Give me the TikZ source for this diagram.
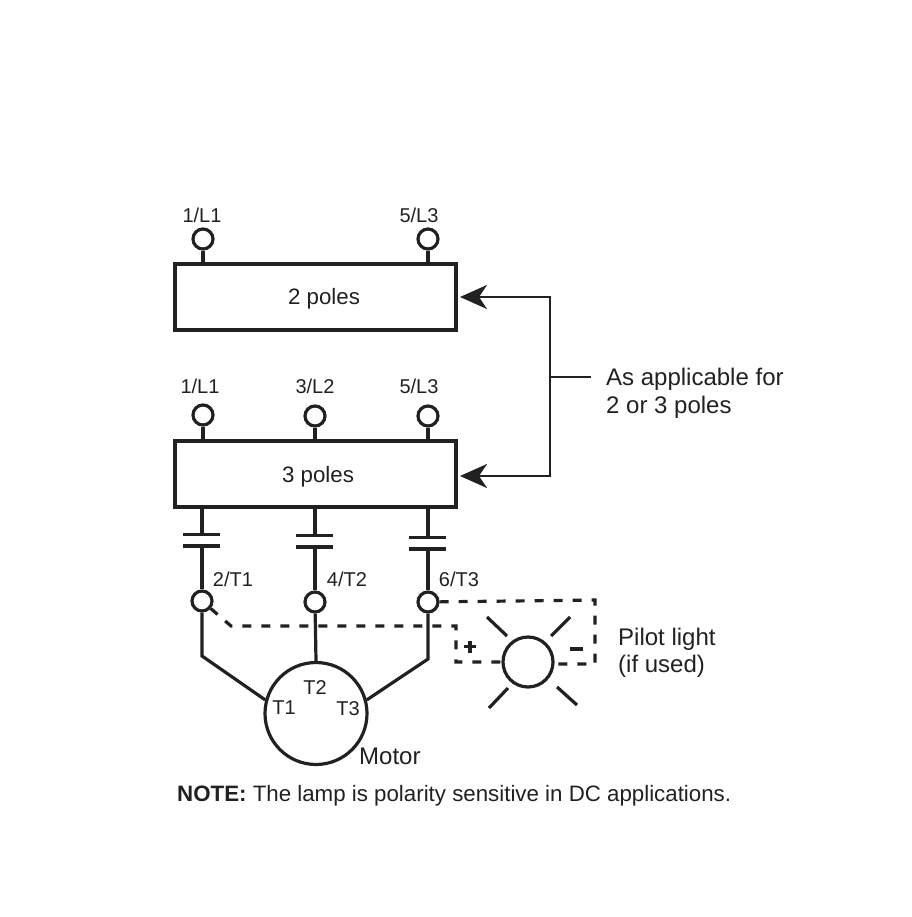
\documentclass[tikz,border=0pt]{standalone}
\usepackage{fontspec}
\setmainfont{Liberation Sans}
\usetikzlibrary{arrows.meta}
\definecolor{ink}{gray}{0.13}
\newcommand{\fsA}{\fontsize{20}{24}\selectfont}
\newcommand{\fsB}{\fontsize{22.3}{27.5}\selectfont}
\newcommand{\fsC}{\fontsize{24}{27.5}\selectfont}
\tikzset{
  wire/.style={draw=ink,line width=3.2pt},
  thin wire/.style={draw=ink,line width=2.6pt},
  dashwire/.style={draw=ink,line width=3.2pt,dash pattern=on 9pt off 10pt},
  polebox/.style={draw=ink,line width=3.2pt,minimum width=281pt,minimum height=66pt,inner sep=0pt,outer sep=0pt,anchor=north west},
  term/.style={circle,draw=ink,line width=3.2pt,fill=white,minimum size=20pt,inner sep=0pt},
  plate/.style={draw=ink,line width=3.6pt},
  lbl/.style={text=ink,inner sep=0pt,font=\fsA},
  big/.style={text=ink,inner sep=0pt,font=\fsC,align=left},
  tip/.style={-{Stealth[inset=8pt,length=27pt,width=24pt]}}
}
\begin{document}
\begin{tikzpicture}[x=1pt,y=-1pt]
\useasboundingbox (0,0) rectangle (911,917);
% boxes
\node[polebox] (box2) at (175,264) {};
\node[polebox] (box3) at (175,441) {};
\node[lbl,font=\fsB] (tx2) at (324,299) {2 poles};
\node[lbl,font=\fsB] (tx3) at (318,477) {3 poles};
% upper terminals
\node[term] (a1) at (203,239) {};
\node[term] (a5) at (428,239) {};
\node[term] (b1) at (203,415) {};
\node[term] (b3) at (315,416) {};
\node[term] (b5) at (428,416) {};
\coordinate (a1s) at (203,264);
\coordinate (a5s) at (428,264);
\coordinate (b1s) at (203,441);
\coordinate (b3s) at (315,441);
\coordinate (b5s) at (428,441);
\draw[wire] (a1) -- (a1s);
\draw[wire] (a5) -- (a5s);
\draw[wire] (b1) -- (b1s);
\draw[wire] (b3) -- (b3s);
\draw[wire] (b5) -- (b5s);
\node[lbl] (la1) at (202,215) {1/L1};
\node[lbl] (la5) at (419,215) {5/L3};
\node[lbl] (lb1) at (200,386) {1/L1};
\node[lbl] (lb3) at (315,386) {3/L2};
\node[lbl] (lb5) at (419,386) {5/L3};
% lower terminals
\node[term] (t1) at (202,601) {};
\node[term] (t2) at (315,602) {};
\node[term] (t3) at (428,602) {};
\node[lbl] (lt1) at (233,579) {2/T1};
\node[lbl] (lt2) at (347,579) {4/T2};
\node[lbl] (lt3) at (459,579) {6/T3};
% contacts
\coordinate (c1u) at (202,507); \coordinate (c1a) at (202,534); \coordinate (c1b) at (202,546);
\coordinate (c2u) at (315,507); \coordinate (c2a) at (315,535); \coordinate (c2b) at (315,547);
\coordinate (c3u) at (428,507); \coordinate (c3a) at (428,538); \coordinate (c3b) at (428,549);
\draw[wire] (c1u) -- (c1a);
\draw[wire] (c2u) -- (c2a);
\draw[wire] (c3u) -- (c3a);
\draw[wire] (c1b) -- (t1);
\draw[wire] (c2b) -- (t2);
\draw[wire] (c3b) -- (t3);
\draw[plate] (183,534.5) -- (220,534.5);
\draw[plate] (183,546) -- (220,546);
\draw[plate] (296,535.5) -- (333,535.5);
\draw[plate] (296,547) -- (333,547);
\draw[plate] (409,537.5) -- (446,537.5);
\draw[plate] (409,549) -- (446,549);
% motor
\node[circle,draw=ink,line width=3.2pt,minimum size=102pt,inner sep=0pt] (motor) at (316,713.5) {};
\coordinate (e1) at (202,656);
\coordinate (e3) at (428,659);
\draw[wire] (t1) -- (e1) -- (motor.165);
\draw[wire] (t2) -- (motor.north);
\draw[wire] (t3) -- (e3) -- (motor.15);
\node[lbl] (m1) at (284,708) {T1};
\node[lbl] (m2) at (315,688) {T2};
\node[lbl] (m3) at (348,709) {T3};
\node[lbl,font=\fsC,anchor=west] (mot) at (359,756) {Motor};
% lamp
\node[circle,draw=ink,line width=3.2pt,fill=white,minimum size=50pt,inner sep=0pt] (lamp) at (528,662) {};
\coordinate (d1) at (231,626);
\coordinate (d2) at (456,626);
\coordinate (d3) at (456,662);
\coordinate (d4) at (595,600);
\coordinate (d5) at (595,664);
\coordinate (d6) at (553,664);
\draw[dashwire] (t1) -- (d1) -- (d2) -- (d3) -- (lamp.west);
\draw[dashwire] (t3) -- (d4) -- (d5) -- (d6);
\draw[wire] (487,617) -- (507,636);
\draw[wire] (570,617) -- (551,636);
\draw[wire] (508,688) -- (489,708);
\draw[wire] (557,687) -- (577,705);
\draw[wire] (464,646.5) -- (476,646.5);
\draw[wire] (470,640.5) -- (470,652.5);
\draw[wire] (570,649) -- (583,649);
% bracket
\coordinate (vt) at (550,297);
\coordinate (vb) at (550,476);
\coordinate (vm) at (550,377);
\coordinate (ve) at (591,377);
\coordinate (pt) at (460,297);
\coordinate (pb) at (460,476);
\draw[thin wire,tip] (vm) -- (vt) -- (pt);
\draw[thin wire,tip] (vm) -- (vb) -- (pb);
\draw[thin wire] (vm) -- (ve);
\node[big,anchor=north west] (note1) at (606,368) {As applicable for\\2 or 3 poles};
\node[big,anchor=north west] (note2) at (618,627.5) {Pilot light\\(if used)};
\node[lbl,font=\fsB,anchor=west] (note3) at (177,795.5) {\textbf{NOTE:} The lamp is polarity sensitive in DC applications.};
\end{tikzpicture}
\end{document}
